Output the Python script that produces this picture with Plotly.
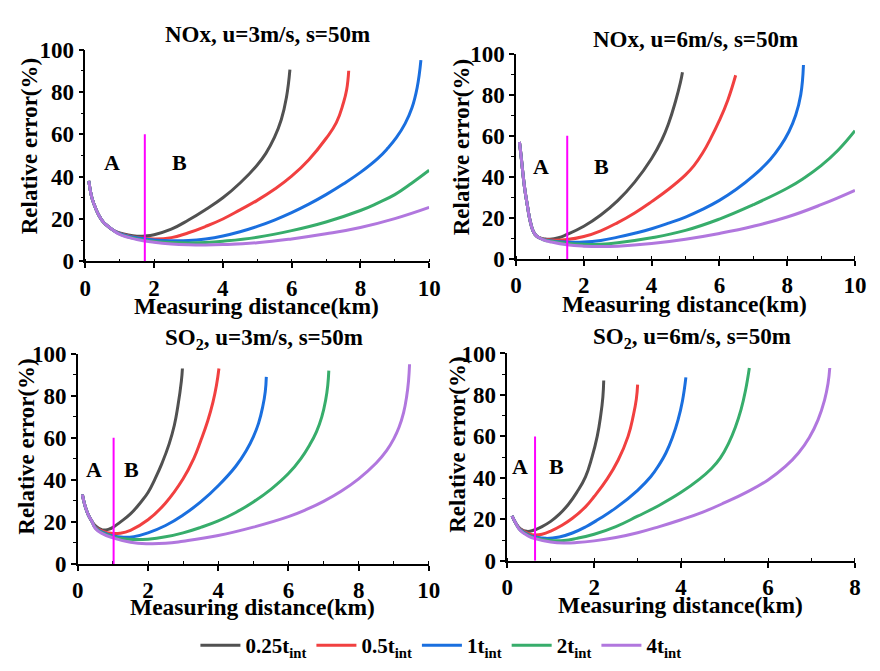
import plotly.graph_objects as go

FONT = "Liberation Serif"
COLORS = ["#515151", "#F14040", "#1A6FDF", "#37AD6B", "#B177DE"]
SERIES = ["0.25t<sub>int</sub>", "0.5t<sub>int</sub>", "1t<sub>int</sub>",
          "2t<sub>int</sub>", "4t<sub>int</sub>"]
TITLES = ["NOx, u=3m/s, s=50m", "NOx, u=6m/s, s=50m",
          "SO<sub>2</sub>, u=3m/s, s=50m", "SO<sub>2</sub>, u=6m/s, s=50m"]
X_MAX = [10, 10, 10, 8]
SPLIT_KM = [1.73, 1.51, 1.02, 0.64]   # boundary between zones A and B
SPLIT_TOP = 60
A_LABEL_X = [0.78, 0.75, 0.46, 0.29]
B_LABEL_X = [2.73, 2.53, 1.53, 1.13]
LABEL_Y = [46.5, 45, 45, 45.7]

# ---------------- NOx, u=3 m/s ----------------
N3_HEAD_X = [0.1, 0.15, 0.2, 0.3, 0.4, 0.5, 0.6, 0.8]
N3_HEAD_Y = [38, 33, 29.5, 25, 21.5, 19, 17.3, 14.8]
N3_025_X = [1.0, 1.25, 1.5, 1.75, 2.0, 2.5, 3.0, 3.5, 4.0, 4.5, 5.0, 5.25, 5.5, 5.7, 5.85, 5.95]
N3_025_Y = [13.4, 12.4, 11.9, 12.0, 12.6, 15.2, 19.5, 24.5, 30, 37, 45.5, 51, 58.5, 67, 77.5, 90.5]
N3_05_X = [1.0, 1.25, 1.5, 2, 2.5, 3, 3.5, 4, 4.5, 5, 5.5, 6, 6.5, 7, 7.3, 7.5, 7.6, 7.66]
N3_05_Y = [13.2, 12.1, 11.3, 10.6, 11.2, 13.5, 16.5, 20, 24.3, 28.8, 34, 40.2, 48, 58, 65.5, 74.5, 81, 90]
N3_1_X = [1.0, 1.25, 1.5, 2, 2.5, 3, 3.5, 4, 4.5, 5, 5.5, 6, 6.5, 7, 7.5, 8, 8.5, 8.8, 9.05, 9.3, 9.5, 9.65, 9.76]
N3_1_Y = [13.1, 11.9, 11.1, 10.1, 9.7, 9.8, 10.6, 12, 14, 16.5, 19.5, 23, 27, 31.5, 36.5, 42, 48.5, 53.5, 58.5, 65, 72.5, 82, 95]
N3_2_X = [1.0, 1.5, 2, 2.5, 3, 3.5, 4, 5, 6, 7, 8, 8.5, 9, 9.5, 10]
N3_2_Y = [12.9, 10.6, 9.4, 8.9, 8.7, 8.9, 9.5, 11.4, 14.5, 18.6, 24, 27.5, 31.5, 37, 43]
N3_4_X = [1.0, 1.5, 2, 2.5, 3, 3.5, 4, 5, 6, 7, 8, 9, 10]
N3_4_Y = [12.7, 10.3, 9.0, 8.2, 7.8, 7.7, 7.9, 8.8, 10.6, 13, 16, 20.2, 25.5]

# ---------------- NOx, u=6 m/s ----------------
N6_HEAD_X = [0.1, 0.15, 0.2, 0.25, 0.3, 0.35, 0.4, 0.5, 0.6, 0.7]
N6_HEAD_Y = [57, 50, 42, 35, 29.5, 24.5, 19.8, 13.8, 11.3, 10.3]
N6_025_X = [0.85, 1.0, 1.25, 1.5, 2, 2.5, 3, 3.5, 4, 4.3, 4.5, 4.7, 4.85, 4.91]
N6_025_Y = [9.8, 9.7, 10.4, 12, 16, 21.5, 28.5, 37.5, 49, 58, 66, 76.5, 86, 91]
N6_05_X = [0.85, 1.0, 1.5, 2, 2.5, 3, 3.5, 4, 4.5, 5, 5.25, 5.5, 5.75, 6, 6.25, 6.48]
N6_05_Y = [9.6, 9.3, 9.5, 11, 13.8, 17.8, 22.5, 28, 34, 41, 45.5, 51.5, 59, 67.5, 77.5, 89.5]
N6_1_X = [0.85, 1.0, 1.5, 2, 2.5, 3, 3.5, 4, 4.5, 5, 5.5, 6, 6.5, 7, 7.5, 7.8, 8.05, 8.25, 8.4, 8.48]
N6_1_Y = [9.4, 9.0, 8.3, 8.3, 9.1, 10.7, 12.6, 14.8, 17.5, 20.5, 24.2, 28.6, 34, 40.5, 48.5, 55, 62, 70, 80, 94.5]
N6_2_X = [0.85, 1.0, 1.5, 2, 2.5, 3, 4, 5, 6, 7, 8, 8.5, 9, 9.5, 10]
N6_2_Y = [9.2, 8.8, 7.7, 7.2, 7.3, 8.0, 10.4, 14, 19.5, 26.5, 34.5, 39.5, 45.5, 53, 62.5]
N6_4_X = [0.85, 1.0, 1.5, 2, 2.5, 3, 4, 5, 6, 7, 8, 9, 10]
N6_4_Y = [9.1, 8.5, 7.0, 6.3, 6.1, 6.3, 7.6, 9.7, 12.5, 16, 20.5, 26.5, 33.5]

# ---------------- SO2, u=3 m/s ----------------
S3_HEAD_X = [0.13, 0.2, 0.3, 0.4]
S3_HEAD_Y = [33, 28, 23.3, 20.3]
S3_025_X = [0.5, 0.7, 0.9, 1.0, 1.2, 1.5, 1.8, 2.0, 2.2, 2.4, 2.6, 2.75, 2.85, 2.95, 2.98]
S3_025_Y = [18.2, 16.2, 16.6, 17.4, 19.8, 23.8, 29.5, 34, 40.5, 48, 57, 66, 75, 87, 93]
S3_05_X = [0.5, 0.7, 1.0, 1.2, 1.5, 2, 2.5, 3, 3.3, 3.5, 3.7, 3.85, 3.95, 4.02]
S3_05_Y = [17.6, 15.6, 14.5, 14.6, 16, 21, 29, 40.5, 50, 58.5, 68, 77, 85, 93]
S3_1_X = [0.5, 0.7, 1.0, 1.3, 1.6, 2, 2.5, 3, 3.5, 4, 4.5, 4.8, 5.0, 5.15, 5.27, 5.34, 5.37]
S3_1_Y = [17.3, 15.1, 13.3, 12.7, 13, 14.8, 18.3, 23.3, 29.5, 37.2, 46.5, 54, 60.5, 67, 75, 82, 89]
S3_2_X = [0.5, 0.7, 1.0, 1.3, 1.6, 2, 2.5, 3, 3.5, 4, 4.5, 5, 5.5, 6, 6.35, 6.6, 6.8, 6.95, 7.06, 7.12, 7.15]
S3_2_Y = [17.1, 14.8, 13, 12, 11.6, 11.8, 12.9, 14.8, 17.4, 20.5, 24.5, 29.5, 35.5, 43, 50, 56.5, 63, 70, 78, 85, 92]
S3_4_X = [0.5, 0.7, 1.0, 1.5, 2, 2.5, 3, 4, 5, 6, 6.5, 7, 7.5, 8, 8.5, 8.8, 9.0, 9.15, 9.28, 9.37, 9.42, 9.45]
S3_4_Y = [16.9, 14.4, 12.4, 10.3, 9.6, 9.8, 10.8, 13.5, 17.5, 22.5, 25.8, 29.8, 34.6, 40.5, 48, 54, 59.5, 65, 72, 80, 87, 95]

# ---------------- SO2, u=6 m/s ----------------
S6_HEAD_X = [0.11, 0.2]
S6_HEAD_Y = [21.7, 18]
S6_025_X = [0.3, 0.45, 0.6, 0.8, 1.0, 1.2, 1.4, 1.6, 1.8, 1.95, 2.07, 2.15, 2.2, 2.22]
S6_025_Y = [15.5, 14.2, 14.7, 16.5, 19, 22.5, 27, 33, 40.5, 50, 60, 70, 79, 87]
S6_05_X = [0.3, 0.5, 0.64, 0.8, 1.0, 1.25, 1.5, 1.8, 2.0, 2.3, 2.55, 2.78, 2.9, 2.97, 3.0]
S6_05_Y = [15.2, 13, 12.4, 12.8, 14.3, 17, 20.5, 26, 31, 39.5, 48.5, 60, 70, 78, 85]
S6_1_X = [0.3, 0.5, 0.64, 0.9, 1.2, 1.5, 1.8, 2.1, 2.5, 3, 3.3, 3.5, 3.65, 3.8, 3.93, 4.03, 4.11]
S6_1_Y = [15, 12.4, 11.5, 10.8, 11.5, 13.4, 16.3, 20, 25.5, 34, 40.5, 46.5, 52, 59.5, 68, 77, 88.5]
S6_2_X = [0.3, 0.5, 0.64, 1.0, 1.3, 1.6, 2, 2.5, 3, 3.5, 4, 4.4, 4.7, 4.9, 5.1, 5.25, 5.38, 5.48, 5.57]
S6_2_Y = [14.8, 12.2, 11.1, 9.8, 9.8, 10.8, 12.8, 16.5, 21.5, 26.8, 33, 39, 44.5, 49.5, 57, 64.5, 73, 82, 93]
S6_4_X = [0.3, 0.5, 0.64, 1.0, 1.3, 1.6, 2, 2.5, 3, 3.5, 4, 4.5, 5, 5.5, 6, 6.4, 6.7, 6.95, 7.15, 7.3, 7.38, 7.42]
S6_4_Y = [14.6, 11.8, 10.7, 9.1, 8.6, 8.8, 9.6, 11.2, 13.5, 16.5, 19.8, 23.5, 28, 33, 39, 45.5, 52, 59.5, 68, 77.5, 85.5, 93]

PANELS = [
    (N3_HEAD_X, N3_HEAD_Y, [(N3_025_X, N3_025_Y), (N3_05_X, N3_05_Y), (N3_1_X, N3_1_Y),
                            (N3_2_X, N3_2_Y), (N3_4_X, N3_4_Y)]),
    (N6_HEAD_X, N6_HEAD_Y, [(N6_025_X, N6_025_Y), (N6_05_X, N6_05_Y), (N6_1_X, N6_1_Y),
                            (N6_2_X, N6_2_Y), (N6_4_X, N6_4_Y)]),
    (S3_HEAD_X, S3_HEAD_Y, [(S3_025_X, S3_025_Y), (S3_05_X, S3_05_Y), (S3_1_X, S3_1_Y),
                            (S3_2_X, S3_2_Y), (S3_4_X, S3_4_Y)]),
    (S6_HEAD_X, S6_HEAD_Y, [(S6_025_X, S6_025_Y), (S6_05_X, S6_05_Y), (S6_1_X, S6_1_Y),
                            (S6_2_X, S6_2_Y), (S6_4_X, S6_4_Y)]),
]

W, H = 880, 671
# plot-area boxes in pixels: left, right, top, bottom
BOXES = [(81, 432, 39, 259), (520.7, 866.7, 43.3, 256.7),
         (73.3, 431.7, 355, 573.3), (511.7, 866.7, 354.7, 570)]
TITLE_POS = [(267, 23), (704, 29), (263, 340), (700, 339)]
YTITLE_POS = [(24, 140), (465, 140), (21, 452), (461, 450)]
XTITLE_POS = [(256, 305), (693, 303), (252, 618), (689, 616)]


def px(x):
    return x / W


def py(y):
    return 1 - y / H


fig = go.Figure()
annotations = []
shapes = []
layout = {}

for i, (head_x, head_y, curves) in enumerate(PANELS):
    n = "" if i == 0 else str(i + 1)
    xa, ya = "x" + n, "y" + n
    for k, (cx, cy) in enumerate(curves):
        fig.add_trace(go.Scatter(
            x=head_x + cx, y=head_y + cy, mode="lines", name=SERIES[k],
            line=dict(color=COLORS[k], width=3, shape="spline", smoothing=1.3),
            xaxis=xa, yaxis=ya, showlegend=(i == 0), legendgroup=SERIES[k],
        ))
    l, r, t, b = BOXES[i]
    axis_common = dict(
        showline=True, linecolor="black", linewidth=1.5, mirror=False,
        showgrid=False, zeroline=False, ticks="outside", ticklen=5,
        tickwidth=1.5, tickcolor="black",
        tickfont=dict(family=FONT, size=23, color="black", weight="bold"),
    )
    layout["xaxis" + n] = dict(
        axis_common, domain=[px(l), px(r)], anchor=ya, range=[0, X_MAX[i]],
        dtick=2, tick0=0,
        minor=dict(dtick=1, ticks="inside", ticklen=3, tickwidth=1.2, tickcolor="black"),
    )
    layout["yaxis" + n] = dict(
        axis_common, domain=[py(b), py(t)], anchor=xa, range=[0, 100],
        dtick=20, tick0=0,
        minor=dict(dtick=10, ticks="outside", ticklen=3, tickwidth=1.2, tickcolor="black"),
    )
    shapes.append(dict(type="line", xref=xa, yref=ya, x0=SPLIT_KM[i], x1=SPLIT_KM[i],
                       y0=0, y1=SPLIT_TOP, line=dict(color="#FF00FF", width=2)))
    for lx, txt in ((A_LABEL_X[i], "A"), (B_LABEL_X[i], "B")):
        annotations.append(dict(x=lx, y=LABEL_Y[i], xref=xa, yref=ya, text=txt,
                                showarrow=False,
                                font=dict(family=FONT, size=22, color="black", weight="bold")))
    tx, ty = TITLE_POS[i]
    annotations.append(dict(x=px(tx), y=py(ty), xref="paper", yref="paper", text=TITLES[i],
                            showarrow=False, xanchor="center", yanchor="middle",
                            font=dict(family=FONT, size=23, color="black", weight="bold")))
    tx, ty = YTITLE_POS[i]
    annotations.append(dict(x=px(tx), y=py(ty), xref="paper", yref="paper",
                            text="Relative error(%)", textangle=-90, showarrow=False,
                            xanchor="center", yanchor="middle",
                            font=dict(family=FONT, size=23, color="black", weight="bold")))
    tx, ty = XTITLE_POS[i]
    annotations.append(dict(x=px(tx), y=py(ty), xref="paper", yref="paper",
                            text="Measuring distance(km)", showarrow=False,
                            xanchor="center", yanchor="middle",
                            font=dict(family=FONT, size=23.5, color="black", weight="bold")))

fig.update_layout(
    width=W, height=H, margin=dict(l=0, r=0, t=0, b=0),
    paper_bgcolor="white", plot_bgcolor="white",
    font=dict(family=FONT, color="black"),
    annotations=annotations, shapes=shapes,
    legend=dict(orientation="h", x=px(444), xanchor="center", y=py(658), yanchor="middle",
                font=dict(family=FONT, size=21, color="black", weight="bold"),
                bgcolor="rgba(0,0,0,0)", itemwidth=40, tracegroupgap=0),
    **layout,
)

fig.write_html("out.html")
